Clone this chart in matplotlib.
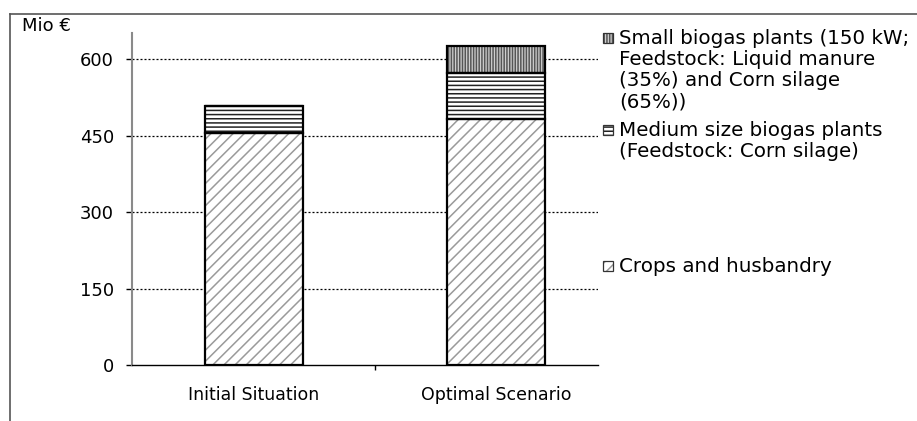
import matplotlib
matplotlib.use("Agg")
import matplotlib.pyplot as plt
from matplotlib.patches import Rectangle
from matplotlib.lines import Line2D

# ---- data ----
categories = ["Initial Situation", "Optimal Scenario"]
crops = [455, 484]
medium = [54, 89]
small = [0, 53]
series_labels = [
    "Small biogas plants (150 kW;\nFeedstock: Liquid manure\n(35%) and Corn silage\n(65%))",
    "Medium size biogas plants\n(Feedstock: Corn silage)",
    "Crops and husbandry",
]
yticks = [0, 150, 300, 450, 600]
y_unit = "Mio €"

plt.rcParams['font.family'] = ['DejaVu Sans']
plt.rcParams['hatch.linewidth'] = 1.1
W, H = 917, 421
fig = plt.figure(figsize=(W / 100, H / 100), dpi=100)

def fx(px):
    return px / W

def fy(py):
    return 1 - py / H

ax = fig.add_axes([fx(132), fy(365), fx(598) - fx(132), fy(33) - fy(365)])

x = list(range(len(categories)))
width = 0.405
styles = [
    dict(hatch='///', face='white', hc='#9a9a9a'),         # crops
    dict(hatch='----', face='white', hc='#222222'),        # medium
    dict(hatch='||||||', face='#cfcfcf', hc='#555555'),    # small
]
bottoms = [0] * len(categories)
series = [crops, medium, small]
for vals, st in zip(series, styles):
    ax.bar(x, vals, width, bottom=bottoms, color=st['face'], edgecolor=st['hc'],
           hatch=st['hatch'], linewidth=0, zorder=2)
    ax.bar(x, vals, width, bottom=bottoms, facecolor='none', edgecolor='black',
           linewidth=1.6, zorder=3)
    bottoms = [b + v for b, v in zip(bottoms, vals)]

ax.set_xlim(-0.504, 1.421)
ax.set_ylim(0, 652)
ax.set_yticks(yticks)
ax.set_yticklabels([str(v) for v in yticks], fontsize=13)
ax.tick_params(axis='y', length=4, width=1, pad=9, color='black')
ax.set_xticks(x)
ax.set_xticklabels(categories, fontsize=12.5)
ax.tick_params(axis='x', which='major', length=0, pad=15)
ax.set_xticks([0.5], minor=True)
ax.tick_params(axis='x', which='minor', length=3.5, width=1, direction='out')

for v in yticks[1:]:
    ax.axhline(v, color='black', linestyle=(0, (1.6, 1.6)), linewidth=0.9, zorder=1)

for s in ['top', 'right']:
    ax.spines[s].set_visible(False)
ax.spines['left'].set_color('#8a8a8a')
ax.spines['left'].set_linewidth(1.5)
ax.spines['bottom'].set_color('black')
ax.spines['bottom'].set_linewidth(1.0)

fig.text(fx(22), fy(26), y_unit, fontsize=13, ha='left', va='center')

# outer chart border (left and top visible)
fig.add_artist(Line2D([fx(10), fx(10)], [fy(14), 0], color='#555555', lw=1.2))
fig.add_artist(Line2D([fx(10), 1], [fy(14), fy(14)], color='#555555', lw=1.2))

# legend (manual)
leg_rows = [(29, 38), (121, 130), (257, 266)]  # (text top px, square center px)
order = [2, 1, 0]
for lab, idx, (ttop, sq) in zip(series_labels, order, leg_rows):
    st = styles[idx]
    r = Rectangle((fx(603), fy(sq + 5)), fx(10), fy(sq - 5) - fy(sq + 5),
                  transform=fig.transFigure, facecolor=st['face'], edgecolor=st['hc'],
                  hatch=st['hatch'], linewidth=0)
    fig.add_artist(r)
    r2 = Rectangle((fx(603), fy(sq + 5)), fx(10), fy(sq - 5) - fy(sq + 5),
                   transform=fig.transFigure, facecolor='none', edgecolor='#333333',
                   linewidth=0.9)
    fig.add_artist(r2)
    fig.text(fx(619), fy(ttop), lab, fontsize=14.3, ha='left', va='top', linespacing=1.15)

fig.savefig("out.png", dpi=100)
